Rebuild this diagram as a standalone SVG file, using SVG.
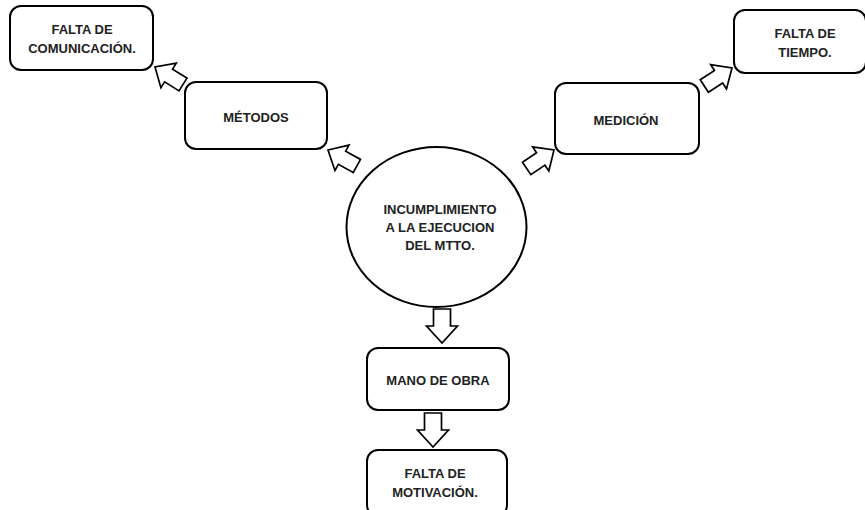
<svg xmlns="http://www.w3.org/2000/svg" xmlns:xlink="http://www.w3.org/1999/xlink" width="865" height="510" viewBox="0 0 865 510">
<style>
.box{fill:#fff;stroke:#000;stroke-width:2}
.arr{fill:#fff;stroke:#000;stroke-width:1.7;stroke-linejoin:miter}
text{font-family:"Liberation Sans",Arial,sans-serif;font-weight:bold;font-size:13px;fill:#222;text-anchor:middle}
</style>
<defs>
<path id="bigArrow" d="M-34,-8.5 H-17 V-15.5 L0,0 L-17,15.5 V8.5 H-34 Z"/>
<path id="smallArrow" d="M-33,-7.5 H-16 V-14.5 L0,0 L-16,14.5 V7.5 H-33 Z"/>
</defs>
<rect width="865" height="510" fill="#fff"/>
<g id="connectors">
<use xlink:href="#smallArrow" class="arr" transform="translate(155,67) rotate(212)"/>
<use xlink:href="#smallArrow" class="arr" transform="translate(328,150) rotate(209)"/>
<use xlink:href="#smallArrow" class="arr" transform="translate(554,150) rotate(-34)"/>
<use xlink:href="#smallArrow" class="arr" transform="translate(732,68) rotate(-33)"/>
<use xlink:href="#bigArrow" class="arr" transform="translate(442,343) rotate(90)"/>
<use xlink:href="#bigArrow" class="arr" transform="translate(433,447) rotate(90)"/>
</g>
<g id="center">
<ellipse class="box" cx="436.5" cy="227" rx="90" ry="80"/>
<text x="440" y="214">INCUMPLIMIENTO</text>
<text x="440" y="232">A LA EJECUCION</text>
<text x="440" y="250">DEL MTTO.</text>
</g>
<g id="metodos">
<rect class="box" x="185" y="82" width="142" height="67" rx="11"/>
<text x="256" y="122">MÉTODOS</text>
</g>
<g id="comunicacion">
<rect class="box" x="10" y="6" width="143" height="64" rx="11"/>
<text x="82" y="34">FALTA DE</text>
<text x="82" y="53">COMUNICACIÓN.</text>
</g>
<g id="medicion">
<rect class="box" x="555" y="83" width="144" height="71" rx="11"/>
<text x="626" y="125">MEDICIÓN</text>
</g>
<g id="tiempo">
<rect class="box" x="734" y="10" width="132" height="63" rx="11"/>
<text x="805" y="38">FALTA DE</text>
<text x="805" y="57">TIEMPO.</text>
</g>
<g id="manoobra">
<rect class="box" x="367" y="348" width="142" height="62" rx="11"/>
<text x="438" y="385">MANO DE OBRA</text>
</g>
<g id="motivacion">
<rect class="box" x="367" y="450" width="140" height="66" rx="11"/>
<text x="435" y="478">FALTA DE</text>
<text x="435" y="497">MOTIVACIÓN.</text>
</g>
</svg>
